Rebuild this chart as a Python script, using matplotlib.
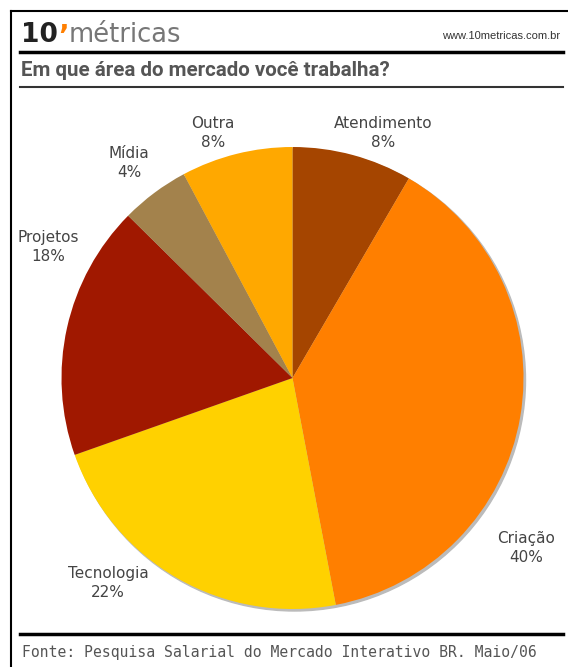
import matplotlib.pyplot as plt
from matplotlib.patches import Circle

# dados
areas = ['Atendimento', 'Criação', 'Tecnologia', 'Projetos', 'Mídia', 'Outra']
pct = [8, 40, 22, 18, 4, 8]                       # rótulos
fatias = [8.4, 38.6, 22.6, 17.8, 4.8, 7.8]        # tamanho medido das fatias
cores = ['#A54500', '#FF7F00', '#FFD100', '#A01800', '#A3824C', '#FFA800']

W, H = 568, 667
def Y(y):
    return H - y

fig = plt.figure(figsize=(W / 100, H / 100), dpi=100)
ax = fig.add_axes([0, 0, 1, 1])

# pizza
cx, cy, r = 292.5, Y(378), 231
ax.add_patch(Circle((cx + 2, cy - 2), r, color='#BBBBBB', zorder=0))
ax.pie(fatias, colors=cores, startangle=90, counterclock=False,
       center=(cx, cy), radius=r, frame=True,
       wedgeprops=dict(linewidth=0))
ax.set_xlim(0, W)
ax.set_ylim(0, H)
ax.axis('off')

# moldura
ax.plot([11, 11], [Y(11), Y(667)], color='black', lw=1.5)
ax.plot([11, 568], [Y(11), Y(11)], color='black', lw=1.5)
ax.plot([20, 563], [Y(52), Y(52)], color='black', lw=2.5)
ax.plot([20, 563], [Y(87), Y(87)], color='#333333', lw=1.5)
ax.plot([20, 563], [Y(634), Y(634)], color='black', lw=2.5)

# cabecalho
ax.text(21, Y(42), '10', fontsize=19, fontweight='black', color='#222222',
        va='baseline', ha='left', family='DejaVu Sans')
ax.text(58, Y(23), '’', fontsize=20, fontweight='bold', color='#FF7F00',
        va='top', ha='left', family='DejaVu Sans')
ax.text(69, Y(42), 'métricas', fontsize=18.5, color='#777777',
        va='baseline', ha='left', family='DejaVu Sans')
ax.text(560, Y(36), 'www.10metricas.com.br', fontsize=8, color='#333333',
        va='center', ha='right', family='Liberation Sans')
ax.text(21, Y(70), 'Em que área do mercado você trabalha?', fontsize=14.8,
        fontweight='bold', color='#555555', va='center', ha='left',
        family='Roboto')

pos_rot = [(383, 133), (526, 548), (108, 583), (48, 247), (129, 163), (213, 133)]
for nome, p, (x, y) in zip(areas, pct, pos_rot):
    ax.text(x, Y(y), f'{nome}\n{p}%', fontsize=11, color='#444444',
            ha='center', va='center', linespacing=1.3)

# rodape
ax.text(22, Y(652), 'Fonte: Pesquisa Salarial do Mercado Interativo BR. Maio/06',
        fontsize=10.6, color='#555555', va='center', ha='left',
        family='DejaVu Sans Mono')

fig.savefig('out.png', dpi=100)
